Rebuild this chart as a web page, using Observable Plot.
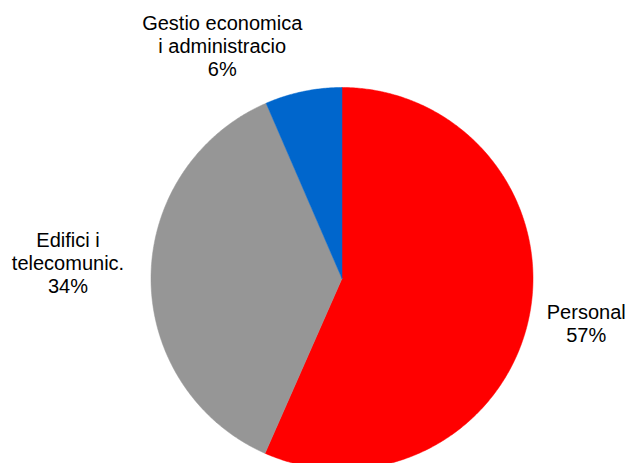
<!DOCTYPE html>
<html><head><meta charset="utf-8">
<script src="https://cdn.jsdelivr.net/npm/d3@7"></script>
<script src="https://cdn.jsdelivr.net/npm/@observablehq/plot@0.6"></script>
<style>html,body{margin:0;padding:0;background:#fff;overflow:hidden;} svg{overflow:hidden;}</style>
</head><body><div id="chart"></div>
<script>
// ---- data ----
const categories = ["Personal", "Edifici i telecomunic.", "Gestio economica i administracio"];
const values = [56.6, 36.9, 6.5];
const pctLabels = ["57%", "34%", "6%"];
const labelLines = ["Personal", "Edifici i\ntelecomunic.", "Gestio economica\ni administracio"];
const colors = ["#FF0000", "#969696", "#0066CC"];

// ---- layout ----
const W = 627, H = 463, cx = 341.5, cy = 278, R = 191;
const labelPlacement = [{rf: 1.30, da: -1.5}, {rf: 1.437, da: 3.2}, {rf: 1.372, da: -15.5}];

const data = categories.map((c, i) => ({name: c, value: values[i], color: colors[i], label: labelLines[i] + "\n" + pctLabels[i]}));
const arcs = d3.pie().sort(null).value(d => d.value)(data);

const pts = [];
arcs.forEach(a => {
  const n = Math.max(2, Math.ceil((a.endAngle - a.startAngle) / (Math.PI / 360)));
  pts.push({name: a.data.name, color: a.data.color, x: 0, y: 0});
  for (let k = 0; k <= n; k++) {
    const t = a.startAngle + (a.endAngle - a.startAngle) * k / n;
    pts.push({name: a.data.name, color: a.data.color, x: Math.sin(t), y: Math.cos(t)});
  }
  pts.push({name: a.data.name, color: a.data.color, x: 0, y: 0});
});

const labels = arcs.map((a, i) => {
  const m = (a.startAngle + a.endAngle) / 2 + labelPlacement[i].da * Math.PI / 180;
  const r = labelPlacement[i].rf;
  return {x: r * Math.sin(m), y: r * Math.cos(m), text: a.data.label};
});

const chart = Plot.plot({
  width: W, height: H, margin: 0,
  x: {domain: [-1, 1], range: [cx - R, cx + R], axis: null},
  y: {domain: [-1, 1], range: [cy + R, cy - R], axis: null},
  color: {type: "identity"},
  style: {fontFamily: "'Liberation Sans', Arial, sans-serif", background: "#fff"},
  marks: [
    Plot.line(pts, {x: "x", y: "y", z: "name", fill: "color", stroke: "color", strokeWidth: 0.5, curve: "linear"}),
    Plot.text(labels, {x: "x", y: "y", text: "text", fontSize: 20, lineHeight: 1.15, fill: "#000", textAnchor: "middle", lineAnchor: "middle"})
  ]
});
document.getElementById("chart").appendChild(chart);
</script>
</body></html>
